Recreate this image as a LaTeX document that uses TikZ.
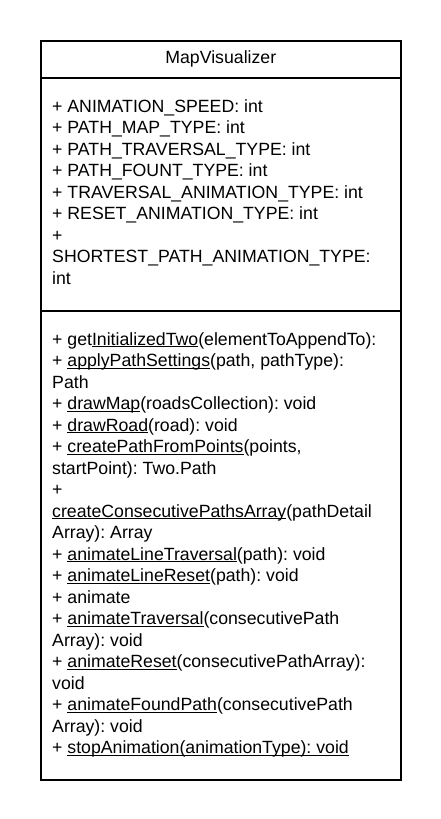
\documentclass[tikz,border=0pt]{standalone}
\usepackage{fontspec}
\setmainfont{Liberation Sans}
\usepackage{tikz}

\newcommand{\uname}[1]{\underline{\smash{#1}}}

\begin{document}
\begin{tikzpicture}[
    x=1pt, y=1pt,
    part/.style={draw, line width=1.6pt, minimum width=360pt, inner sep=0pt, anchor=north west},
    members/.style={anchor=base west, inner sep=0pt, align=left, font=\fontsize{17.7}{21.5}\selectfont\frenchspacing}
]
    \useasboundingbox (0,0) rectangle (440,-819);
    \node[part, minimum height=37pt, font=\fontsize{17.7}{21.5}\selectfont] (head) at (40,-40) {MapVisualizer};
    \node[part, minimum height=233pt] (attrbox) at (40,-77) {};
    \node[part, minimum height=469pt] (methbox) at (40,-310) {};

    \node[members] (attrs) at (52,-284) {+ ANIMATION\_SPEED: int\\
+ PATH\_MAP\_TYPE: int\\
+ PATH\_TRAVERSAL\_TYPE: int\\
+ PATH\_FOUNT\_TYPE: int\\
+ TRAVERSAL\_ANIMATION\_TYPE: int\\
+ RESET\_ANIMATION\_TYPE: int\\
+\\
SHORTEST\_PATH\_ANIMATION\_TYPE:\\
int};

    \node[members] (meths) at (52,-753.5) {+ get\uname{InitializedTwo}(elementToAppendTo):\\
+ \uname{applyPathSettings}(path, pathType):\\
Path\\
+ \uname{drawMap}(roadsCollection): void\\
+ \uname{drawRoad}(road): void\\
+ \uname{createPathFromPoints}(points,\\
startPoint): Two.Path\\
+\\
\uname{createConsecutivePathsArray}(pathDetail\\
Array): Array\\
+ \uname{animateLineTraversal}(path): void\\
+ \uname{animateLineReset}(path): void\\
+ animate\\
+ \uname{animateTraversal}(consecutivePath\\
Array): void\\
+ \uname{animateReset}(consecutivePathArray):\\
void\\
+ \uname{animateFoundPath}(consecutivePath\\
Array): void\\
+ \uname{stopAnimation(animationType): void}};
\end{tikzpicture}
\end{document}
